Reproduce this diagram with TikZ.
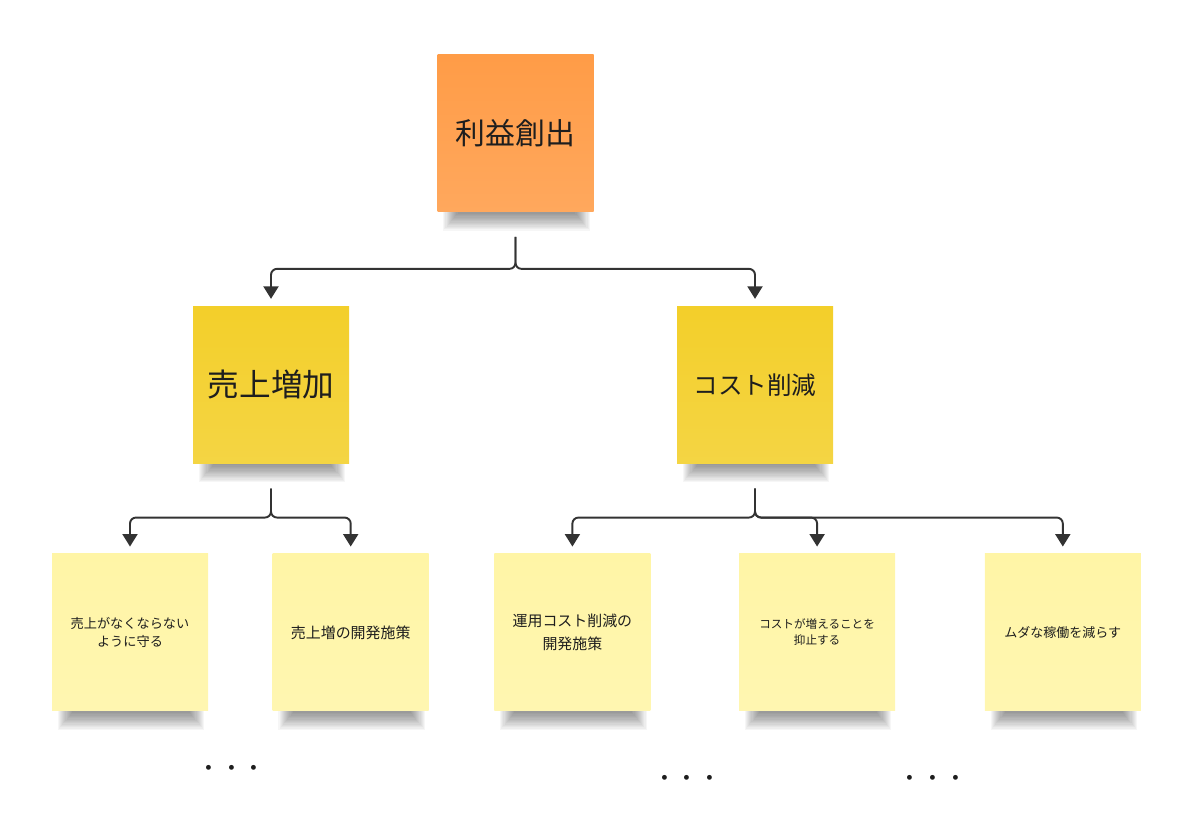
\documentclass[tikz,border=0pt]{standalone}
\usepackage{fontspec}
\newfontfamily\jp{Noto Sans CJK JP}
\usetikzlibrary{arrows.meta,positioning,calc,backgrounds}
\definecolor{stickyorange}{HTML}{FF9C47}
\definecolor{stickyyellow}{HTML}{F3CF2A}
\definecolor{stickypale}{HTML}{FFF5A6}
\definecolor{linegray}{HTML}{333333}
\definecolor{inkdark}{HTML}{1E1E1E}

\begin{document}
\begin{tikzpicture}[
    note/.style={minimum width=3.12cm, minimum height=3.14cm, inner sep=2pt, align=center,
        text=inkdark, top color=#1, bottom color=#1!88!white},
    noteshadow/.style={fill=black, fill opacity=0.036},
    arr/.style={-{Triangle[length=2.5mm, width=3mm]}, line width=1.1pt, draw=linegray,
        rounded corners=0.12cm, shorten <=0.5cm, shorten >=0.14cm},
    more/.style={font=\jp\fontsize{13}{13}\selectfont, text=inkdark, inner sep=0pt}
]
\useasboundingbox (0,0) rectangle (23.78,-16.8);

% top
\node[note=stickyorange, font=\jp\fontsize{17}{20}\selectfont] (root) at (10.31,-2.66) {利益創出};

% second level
\node[note=stickyyellow, font=\jp\fontsize{18}{21}\selectfont, below=1.88cm of root, xshift=-4.89cm] (sales) {売上増加};
\node[note=stickyyellow, font=\jp\fontsize{14}{17}\selectfont, below=1.88cm of root, xshift=4.79cm] (cost) {コスト削減};

% third level
\node[note=stickypale, font=\jp\fontsize{7.5}{10.3}\selectfont, below=1.8cm of sales, xshift=-2.82cm] (keep) {売上がなくならない\\ように守る};
\node[note=stickypale, font=\jp\fontsize{8.5}{12}\selectfont, right=1.28cm of keep] (salesdev) {売上増の開発施策};
\node[note=stickypale, font=\jp\fontsize{8.5}{13}\selectfont, right=1.3cm of salesdev] (opsdev) {運用コスト削減の\\開発施策};
\node[note=stickypale, font=\jp\fontsize{6.6}{9.2}\selectfont, right=1.76cm of opsdev] (curb) {コストが増えることを\\抑止する};
\node[note=stickypale, font=\jp\fontsize{7.4}{10}\selectfont, right=1.78cm of curb] (waste) {ムダな稼働を減らす};

% soft shadows under the notes
\begin{scope}[on background layer]
\foreach \n in {root,sales,cost,keep,salesdev,opsdev,curb,waste}
    \foreach \i in {1,...,14}
        \fill[noteshadow] ($(\n.south west)+(0.1+0.022*\i,0.05)$) rectangle ($(\n.south east)+(-0.06-0.022*\i,-0.4+0.026*\i)$);
\end{scope}

\draw[arr] (root.south) -- ++(0,-1.14) -| (sales.north);
\draw[arr] (root.south) -- ++(0,-1.14) -| (cost.north);

\draw[arr] (sales.south) -- ++(0,-1.08) -| (keep.north);
\draw[arr] (sales.south) -- ++(0,-1.08) -| (salesdev.north);

\draw[arr] (cost.south) -- ++(0,-1.08) -| (opsdev.north);
\draw[arr] (cost.south) -- ++(0,-1.08) -| (curb.north);
\draw[arr] (cost.south) -- ++(0,-1.08) -| (waste.north);

\node[more] (more1) at ($(keep.south)!0.46!(salesdev.south)+(0,-1.2)$) {・・・};
\node[more] (more2) at ($(opsdev.south)!0.47!(curb.south)+(0,-1.39)$) {・・・};
\node[more] (more3) at ($(curb.south)!0.47!(waste.south)+(0,-1.39)$) {・・・};
\end{tikzpicture}
\end{document}
